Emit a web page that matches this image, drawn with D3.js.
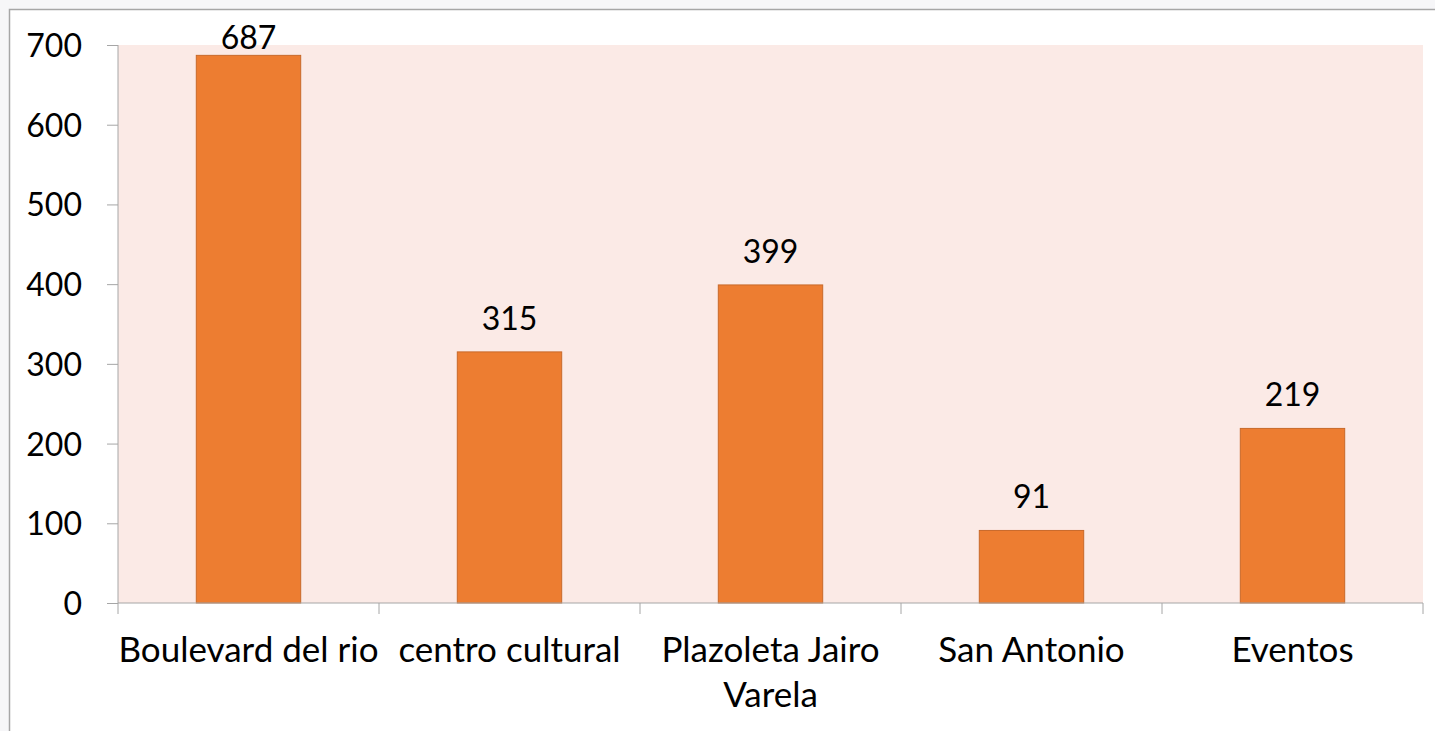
<!DOCTYPE html>
<html>
<head>
<meta charset="utf-8">
<script src="https://cdn.jsdelivr.net/npm/d3@7"></script>
<style>
  body { margin: 0; background: #f6f6f8; }
  svg { display: block; }
</style>
</head>
<body>
<div id="chart"></div>
<script>
var categories = ["Boulevard del rio", "centro cultural", "Plazoleta Jairo Varela", "San Antonio", "Eventos"];
var values = [687, 315, 399, 91, 219];
var yTicks = [0, 100, 200, 300, 400, 500, 600, 700];

var width = 1435;
var height = 731;
var margin = { top: 45, right: 12, bottom: 128, left: 118 };
var fontFam = "Lato, 'Open Sans', sans-serif";
var numSize = 32;
var catSize = 35;

var svg = d3.select("#chart")
  .append("svg")
  .attr("width", width)
  .attr("height", height);

// white chart frame with grey border (runs off the right / bottom edge)
svg.append("rect")
  .attr("x", 9.5)
  .attr("y", 9.5)
  .attr("width", width + 20)
  .attr("height", height + 20)
  .attr("fill", "#fff")
  .attr("stroke", "#a6a6a6")
  .attr("stroke-width", 1.5);

var x = d3.scaleBand()
  .domain(categories)
  .range([margin.left, width - margin.right])
  .paddingInner(0.6)
  .paddingOuter(0.3);

var y = d3.scaleLinear()
  .domain([0, 700])
  .range([height - margin.bottom, margin.top]);

// plot background
svg.append("rect")
  .attr("x", margin.left)
  .attr("y", y(700))
  .attr("width", width - margin.right - margin.left)
  .attr("height", y(0) - y(700))
  .attr("fill", "#fbeae6");

// bars
svg.selectAll(".bar")
  .data(values)
  .enter().append("rect")
  .attr("class", "bar")
  .attr("x", function(d, i) { return x(categories[i]); })
  .attr("y", function(d) { return y(d); })
  .attr("width", x.bandwidth())
  .attr("height", function(d) { return y(0) - y(d); })
  .attr("fill", "#ed7d31")
  .attr("stroke", "#c8692a")
  .attr("stroke-width", 1);

// value labels (Excel keeps the top one inside the chart)
svg.selectAll(".val")
  .data(values)
  .enter().append("text")
  .attr("class", "val")
  .attr("x", function(d, i) { return x(categories[i]) + x.bandwidth() / 2; })
  .attr("y", function(d) { return Math.max(y(d) - 22, 49); })
  .attr("text-anchor", "middle")
  .style("font-family", fontFam)
  .style("font-size", numSize + "px")
  .style("fill", "#000")
  .text(function(d) { return d; });

// y axis
var yAxis = svg.append("g")
  .attr("transform", "translate(" + margin.left + ",0)")
  .call(d3.axisLeft(y).tickValues(yTicks).tickSize(11).tickPadding(25));
yAxis.selectAll("line, path").attr("stroke", "#a6a6a6");
yAxis.select(".domain").attr("d", "M0," + y(700) + "V" + y(0));
yAxis.selectAll("text")
  .style("font-family", fontFam)
  .style("font-size", numSize + "px")
  .style("fill", "#000")
  .attr("dy", "0.36em");

// x axis with ticks on the category boundaries
var step = x.step();
var bounds = d3.range(categories.length + 1).map(function(i) { return margin.left + i * step; });
var xAxis = svg.append("g");
xAxis.append("line")
  .attr("x1", margin.left)
  .attr("x2", width - margin.right)
  .attr("y1", y(0))
  .attr("y2", y(0))
  .attr("stroke", "#a6a6a6");
xAxis.selectAll(".xt")
  .data(bounds)
  .enter().append("line")
  .attr("x1", function(d) { return d; })
  .attr("x2", function(d) { return d; })
  .attr("y1", y(0))
  .attr("y2", y(0) + 11)
  .attr("stroke", "#a6a6a6");

var labels = xAxis.selectAll(".xl")
  .data(categories)
  .enter().append("text")
  .attr("class", "xl")
  .attr("x", function(d) { return x(d) + x.bandwidth() / 2; })
  .attr("y", y(0) + 59)
  .attr("text-anchor", "middle")
  .style("font-family", fontFam)
  .style("font-size", catSize + "px")
  .style("fill", "#000");

// wrap long category names into lines that fit the band
labels.each(function(d) {
  var el = d3.select(this);
  var words = d.split(" ");
  var line = [];
  var tspan = el.append("tspan").attr("x", el.attr("x")).attr("dy", 0);
  for (var i = 0; i < words.length; i++) {
    line.push(words[i]);
    tspan.text(line.join(" "));
    if (tspan.node().getComputedTextLength() > step && line.length > 1) {
      line.pop();
      tspan.text(line.join(" "));
      line = [words[i]];
      tspan = el.append("tspan").attr("x", el.attr("x")).attr("dy", 45).text(words[i]);
    }
  }
});
</script>
</body>
</html>
